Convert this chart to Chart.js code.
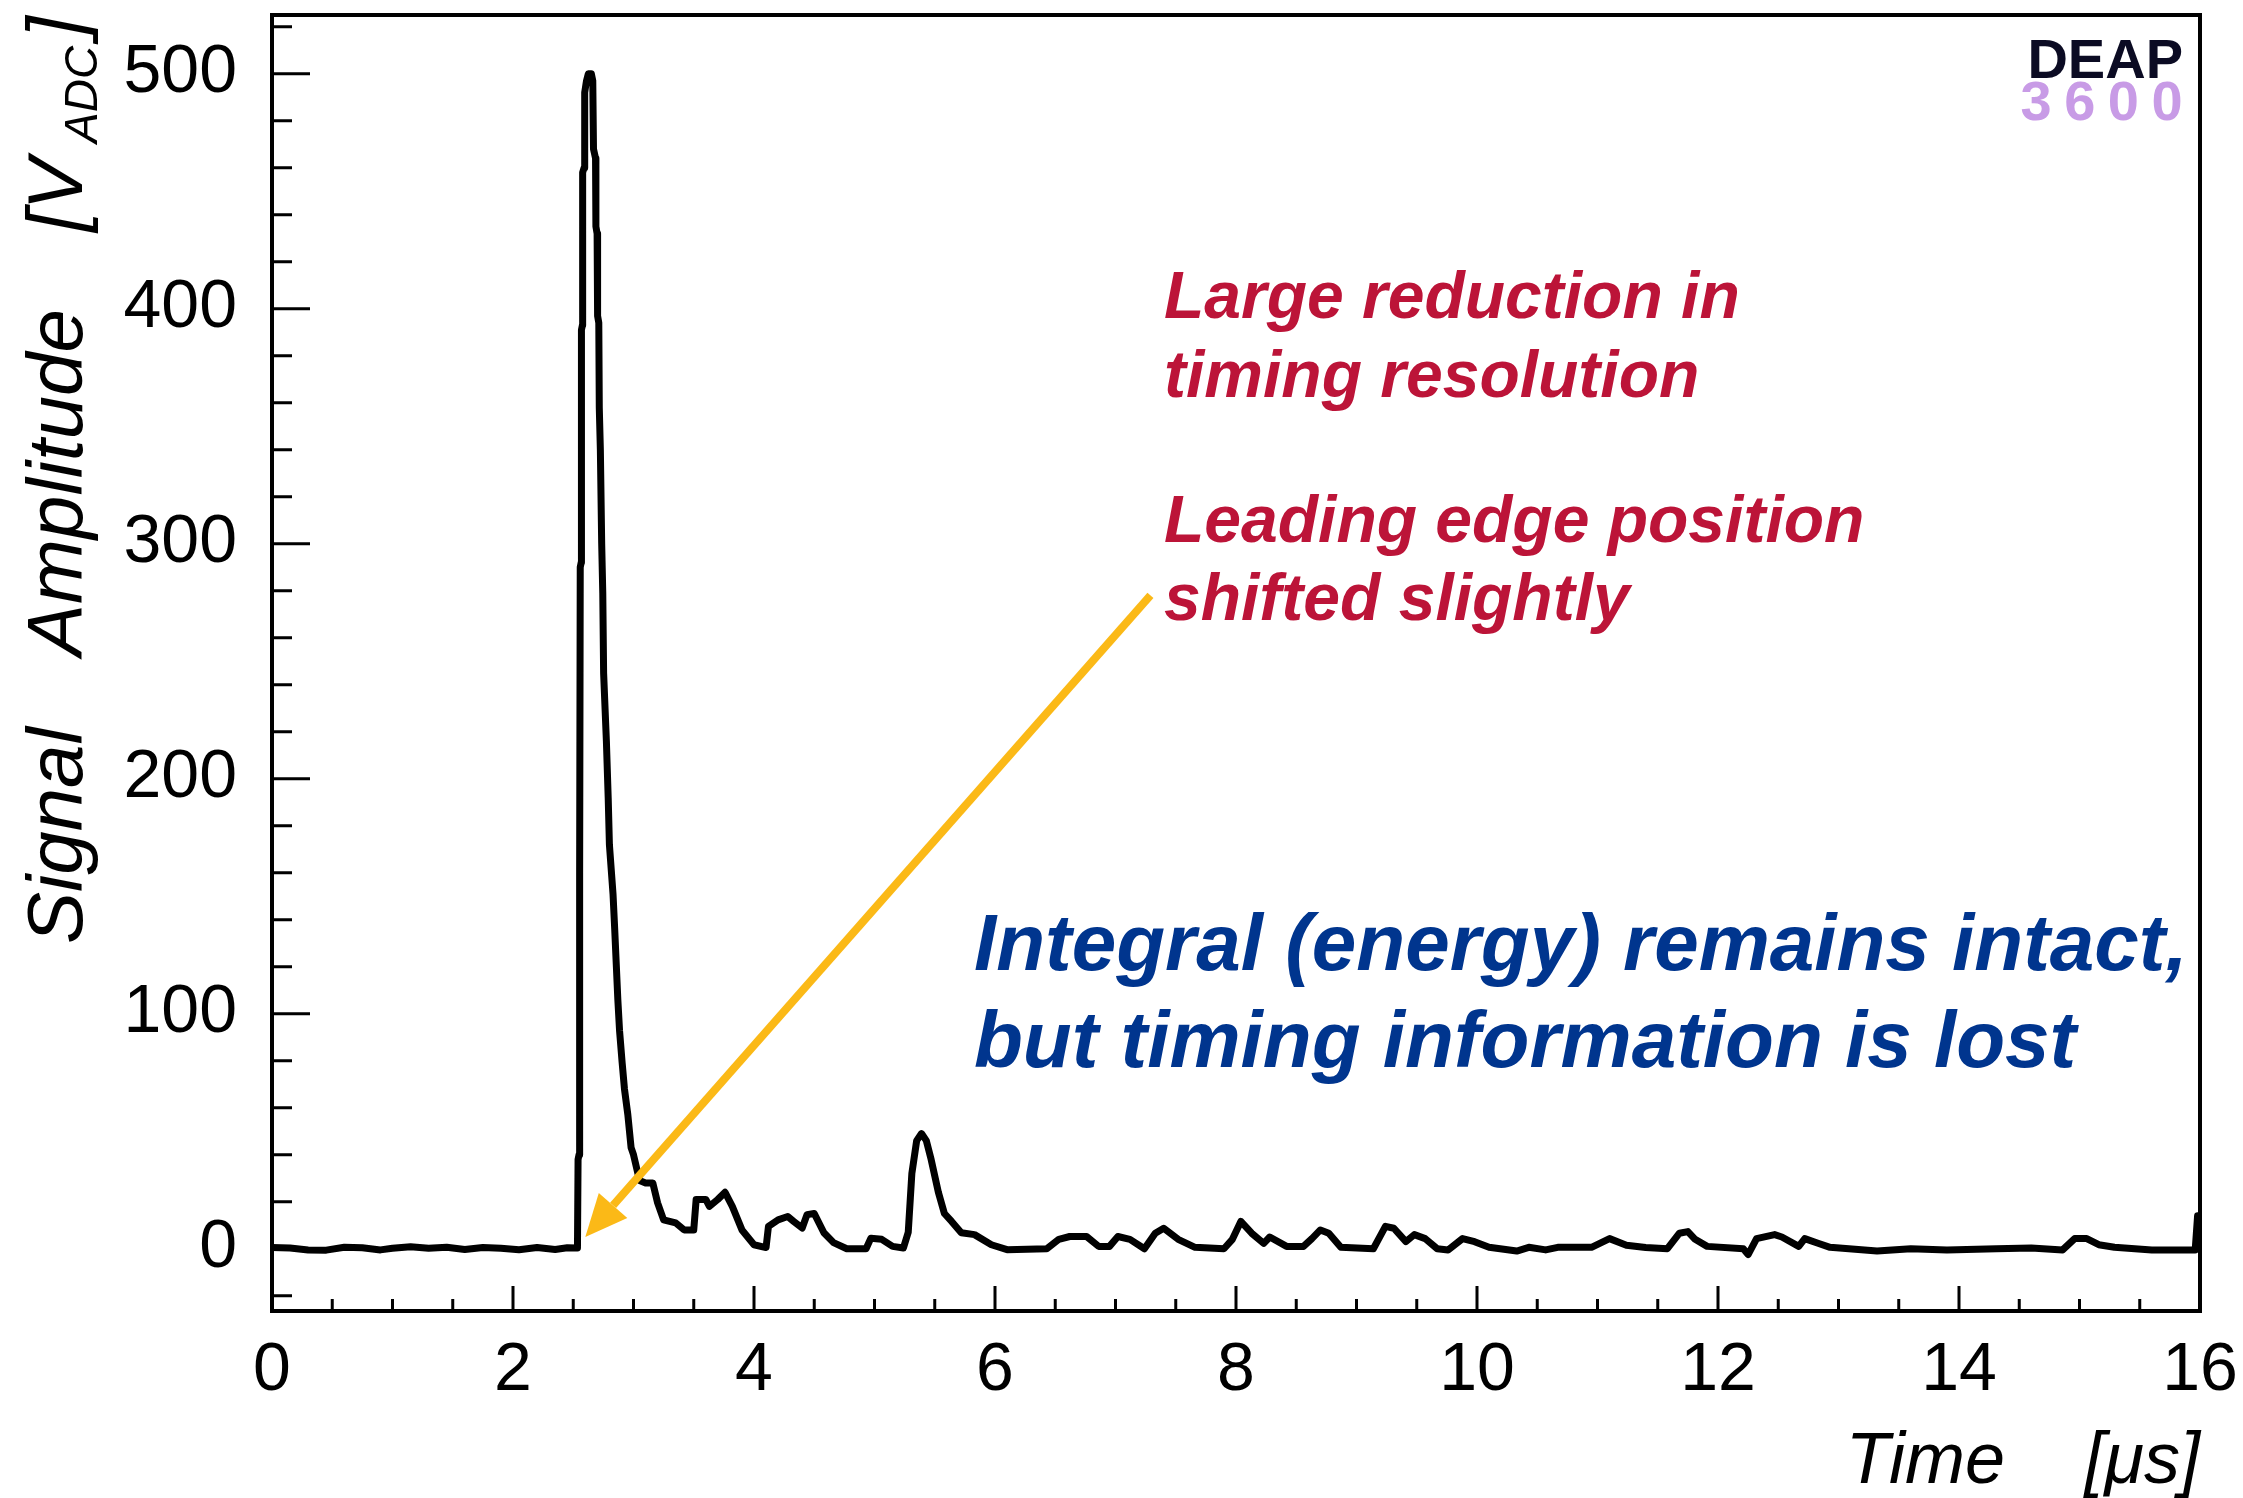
<!DOCTYPE html>
<html>
<head>
<meta charset="utf-8">
<title>DEAP-3600 waveform</title>
<script src="https://cdn.jsdelivr.net/npm/chart.js@4.4.1/dist/chart.umd.min.js"></script>
<style>
  html, body { margin: 0; padding: 0; background: #fff; }
  #wrap { width: 2243px; height: 1498px; position: relative; }
</style>
</head>
<body>
<div id="wrap"><canvas id="waveChart"></canvas></div>
<script>
// Sample times [us]
const timeValues = [
  // baseline before the pulse
  0, 0.15, 0.3, 0.45, 0.6, 0.75, 0.9, 1.0, 1.15, 1.3, 1.45, 1.6, 1.75, 1.9, 2.05, 2.2, 2.35, 2.45, 2.535,
  // leading edge + peak
  2.54, 2.548, 2.55, 2.556, 2.558, 2.566, 2.568, 2.576, 2.578, 2.59, 2.595, 2.61, 2.625, 2.65, 2.662,
  // falling edge
  2.668, 2.685, 2.688, 2.698, 2.702, 2.712, 2.716, 2.725, 2.736, 2.745, 2.752, 2.775, 2.79, 2.80, 2.83,
  2.844, 2.857, 2.87, 2.884, 2.906, 2.925, 2.953, 2.98, 3.0, 3.05, 3.1, 3.16,
  // afterpulses
  3.2, 3.25, 3.35, 3.42, 3.5, 3.52, 3.6, 3.63, 3.7, 3.76, 3.82, 3.9, 4.0, 4.1, 4.12, 4.2, 4.28, 4.33, 4.4, 4.44,
  4.5, 4.58, 4.66, 4.77, 4.93, 4.97, 5.06, 5.15, 5.24, 5.28, 5.31, 5.35, 5.39, 5.43, 5.47, 5.53, 5.58, 5.64, 5.72, 5.83, 5.97,
  // tail
  6.1, 6.43, 6.53, 6.62, 6.76, 6.86, 6.95, 7.02, 7.12, 7.24, 7.33, 7.4, 7.52, 7.66, 7.9, 7.97, 8.04, 8.13, 8.23, 8.28,
  8.42, 8.56, 8.63, 8.7, 8.77, 8.87, 9.14, 9.24, 9.31, 9.41, 9.48, 9.57, 9.67, 9.76, 9.88, 9.98, 10.1, 10.33, 10.43, 10.57,
  10.67, 10.95,
  11.1, 11.24, 11.4, 11.58, 11.68, 11.75, 11.81, 11.91, 12.21, 12.25, 12.32, 12.47, 12.53, 12.67, 12.72, 12.83, 12.93,
  13.32, 13.6, 13.9, 14.31, 14.6, 14.86, 14.96, 15.06, 15.16, 15.29, 15.6, 15.96, 15.98, 16.0
];

// Signal amplitude [V_ADC]
const amplitudeValues = [
  0.5, 0.3, -0.5, -0.6, 0.6, 0.4, -0.5, 0.2, 0.8, 0.2, 0.6, -0.3, 0.5, 0.2, -0.4, 0.5, -0.3, 0.4, 0.3,
  38, 40, 159, 160, 290, 292, 391, 393, 458, 460, 492, 497, 500, 500, 497,
  468, 464, 435, 432, 397, 394, 358, 340, 300, 279, 245, 216, 192, 172, 151,
  136, 121, 106, 93, 79, 68, 57, 43, 40, 29, 28, 28,
  19.5, 12.3, 11, 8, 8, 21, 21, 18, 21, 24, 18, 8, 1.7, 0.5, 9.5, 12.3, 13.7, 11.6, 8.8, 14.5,
  15, 6.8, 2.6, 0, 0, 4.5, 4, 1, 0.3, 7, 32, 46, 49, 46, 38, 24, 15, 11.6, 6.8, 6, 1.7,
  -0.4, 0, 4, 5.2, 5.2, 1, 1, 5.2, 4, 0, 6.6, 8.7, 4, 0.6, 0, 4, 11.6, 6.6, 2.3, 5,
  1, 1, 4.3, 8, 6.6, 0.6, 0, 9.5, 8.7, 3, 6, 4.3, 0, -0.5, 4.3, 3, 0.6, -1, 0.6, -0.5,
  0.6, 0.6,
  4.3, 1.5, 0.5, 0, 6.6, 7.3, 4, 1, 0, -2.5, 4.3, 6, 5, 1, 4.3, 2.3, 0.6,
  -1, 0, -0.5, 0, 0.3, -0.5, 4.3, 4.3, 1.7, 0.6, -0.5, -0.5, 14, 14
];

// Tick labels
const xTickValues = [0, 2, 4, 6, 8, 10, 12, 14, 16];
const yTickValues = [0, 100, 200, 300, 400, 500];

// Annotation texts
const redNotes = ["Large reduction in", "timing resolution", "Leading edge position", "shifted slightly"];
const blueNotes = ["Integral (energy) remains intact,", "but timing information is lost"];

// Arrow from the note down to the leading edge (data coords: [time, amplitude])
const arrowStart = [7.29, 278];
const arrowEnd = [2.6, 5];

const family = "'Liberation Sans', Arial, Helvetica, sans-serif";
const arrowColor = "#fbb917";

const drawArrow = (ctx, x0, y0, x1, y1) => {
  const ang = Math.atan2(y1 - y0, x1 - x0);
  const head = 42, half = 19;
  const bx = x1 - head * Math.cos(ang);
  const by = y1 - head * Math.sin(ang);
  ctx.strokeStyle = arrowColor;
  ctx.lineWidth = 8;
  ctx.beginPath();
  ctx.moveTo(x0, y0);
  ctx.lineTo(bx, by);
  ctx.stroke();
  ctx.fillStyle = arrowColor;
  ctx.beginPath();
  ctx.moveTo(x1, y1);
  ctx.lineTo(bx + half * Math.sin(ang), by - half * Math.cos(ang));
  ctx.lineTo(bx - half * Math.sin(ang), by + half * Math.cos(ang));
  ctx.closePath();
  ctx.fill();
};

// ROOT-like frame, inward ticks, titles and notes
const rootStyle = {
  id: "rootStyle",
  afterDatasetsDraw(chart) {
    const { ctx, chartArea: a, scales: { x, y } } = chart;
    ctx.save();

    // ticks pointing into the frame
    ctx.strokeStyle = "#000";
    ctx.lineWidth = 3;
    ctx.beginPath();
    for (let i = 0; i <= 32; i++) {
      const px = x.getPixelForValue(i * 0.5);
      const len = i % 4 === 0 ? 25 : 12;
      ctx.moveTo(px, a.bottom);
      ctx.lineTo(px, a.bottom - len);
    }
    for (let v = -20; v <= 520; v += 20) {
      const py = y.getPixelForValue(v);
      const len = v % 100 === 0 ? 38 : 20;
      ctx.moveTo(a.left, py);
      ctx.lineTo(a.left + len, py);
    }
    ctx.stroke();

    // frame
    ctx.lineWidth = 4;
    ctx.strokeRect(a.left, a.top, a.right - a.left, a.bottom - a.top);

    // x title
    ctx.fillStyle = "#000";
    ctx.font = "italic 72px " + family;
    ctx.textAlign = "right";
    ctx.textBaseline = "alphabetic";
    ctx.fillText("Time", 2005, 1483);
    ctx.fillText("[\u03bcs]", 2200, 1483);

    // y title (rotated)
    ctx.save();
    ctx.translate(82, 944);
    ctx.rotate(-Math.PI / 2);
    ctx.textAlign = "left";
    ctx.font = "italic 78px " + family;
    ctx.fillText("Signal", 0, 0);
    ctx.fillText("Amplitude", 288, 0);
    ctx.fillText("[V", 712, 0);
    ctx.font = "italic 46px " + family;
    ctx.fillText("ADC", 801, 15);
    ctx.font = "italic 78px " + family;
    ctx.fillText("]", 906, 0);
    ctx.restore();

    // red notes
    ctx.textAlign = "left";
    ctx.fillStyle = "#bc1438";
    ctx.font = "italic bold 66px " + family;
    const redBase = [318, 397, 542, 620];
    redNotes.forEach((t, i) => ctx.fillText(t, 1164, redBase[i]));

    // blue notes
    ctx.fillStyle = "#00358e";
    ctx.font = "italic bold 80px " + family;
    const blueBase = [970, 1067];
    blueNotes.forEach((t, i) => ctx.fillText(t, 974, blueBase[i]));

    // DEAP 3600 logo
    ctx.font = "bold 56px " + family;
    ctx.fillStyle = "#0b0b23";
    ctx.textAlign = "right";
    ctx.fillText("DEAP", 2183, 78);
    ctx.fillStyle = "#c89be6";
    ctx.textAlign = "center";
    "3600".split("").forEach((d, i) => ctx.fillText(d, 2036 + i * 43.7, 120));

    // arrow
    drawArrow(ctx,
      x.getPixelForValue(arrowStart[0]), y.getPixelForValue(arrowStart[1]),
      x.getPixelForValue(arrowEnd[0]), y.getPixelForValue(arrowEnd[1]));

    ctx.restore();
  }
};

const ctx = document.getElementById("waveChart").getContext("2d");
const waveChart = new Chart(ctx, {
  type: "line",
  data: {
    datasets: [{
      data: timeValues.map((t, i) => ({ x: t, y: amplitudeValues[i] })),
      borderColor: "#000",
      borderWidth: 7,
      borderJoinStyle: "round",
      pointRadius: 0,
      tension: 0,
      fill: false
    }]
  },
  options: {
    responsive: true,
    maintainAspectRatio: false,
    animation: false,
    layout: { padding: { left: 0, top: 15, right: 43, bottom: 0 } },
    plugins: { legend: { display: false }, tooltip: { enabled: false } },
    scales: {
      x: {
        type: "linear",
        min: 0,
        max: 16,
        grid: { display: false, drawTicks: false },
        border: { display: false },
        afterBuildTicks: (scale) => { scale.ticks = xTickValues.map(v => ({ value: v })); },
        afterFit: (scale) => {
          scale.height = 187;
          scale.paddingLeft = 0;
          scale.paddingRight = 0;
        },
        ticks: {
          autoSkip: false,
          maxRotation: 0,
          padding: 19,
          color: "#000",
          font: { family: family, size: 68 }
        }
      },
      y: {
        type: "linear",
        min: -26.5,
        max: 525,
        grid: { display: false, drawTicks: false },
        border: { display: false },
        afterBuildTicks: (scale) => { scale.ticks = yTickValues.map(v => ({ value: v })); },
        afterFit: (scale) => {
          scale.width = 272;
          scale.paddingTop = 0;
          scale.paddingBottom = 0;
        },
        ticks: {
          autoSkip: false,
          padding: 35,
          color: "#000",
          font: { family: family, size: 68 }
        }
      }
    }
  },
  plugins: [rootStyle]
});
</script>
</body>
</html>
